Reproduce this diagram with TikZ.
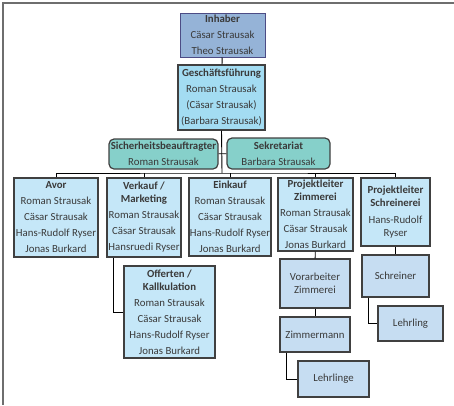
\documentclass[tikz,border=0pt]{standalone}
\usepackage{fontspec}
\setmainfont{Carlito}
\usepackage{tikz}
\usepackage{xcolor}
\usetikzlibrary{positioning, calc}

\definecolor{inhblue}{HTML}{95B3D7}
\definecolor{gfblue}{HTML}{A3DCF2}
\definecolor{unitblue}{HTML}{C5E7F8}
\definecolor{staffblue}{HTML}{C6DDF2}
\definecolor{stabteal}{HTML}{86D0CA}
\definecolor{txtgray}{HTML}{3A3A3A}
\definecolor{framegray}{HTML}{6E6E6E}

\begin{document}
\begin{tikzpicture}[x=1pt, y=-1pt,
  box/.style={draw=black!75, line width=1.2pt, fill=unitblue, text=txtgray,
    align=center, inner sep=1pt, font=\fontsize{10.8}{13}\selectfont},
  stab/.style={box, fill=stabteal, rounded corners=5pt},
  staff/.style={box, fill=staffblue},
  conn/.style={draw=black, line width=0.9pt}]
\useasboundingbox (0,0) rectangle (454,405);
% Frame
\draw[framegray, line width=1.5pt] (454,3) -- (3,3) -- (3,405);

% Leitung
\node[box, fill=inhblue, draw=black!45!blue!40!gray, line width=1pt,
  minimum width=85pt, minimum height=44pt] (inh) at (222.5,35)
  {\textbf{Inhaber}\\[3pt]Cäsar Strausak\\[3pt]Theo Strausak};
\node[box, fill=gfblue, minimum width=87pt, minimum height=65pt] (gf) at (221.5,97.5)
  {\textbf{Geschäftsführung}\\[3pt]Roman Strausak\\[3pt](Cäsar Strausak)\\[3pt](Barbara Strausak)};

% Stab
\node[stab, minimum width=109pt, minimum height=30pt] (sich) at (163.5,154)
  {\textbf{Sicherheitsbeauftragter}\\[3pt]Roman Strausak};
\node[stab, minimum width=103pt, minimum height=31pt] (sekr) at (278.5,153.5)
  {\textbf{Sekretariat}\\[3pt]Barbara Strausak};

% Abteilungen
\node[box, minimum width=84pt, minimum height=79pt] (avor) at (56,217.5)
  {\textbf{Avor}\\[3pt]Roman Strausak\\[3pt]Cäsar Strausak\\[3pt]Hans-Rudolf Ryser\\[3pt]Jonas Burkard};
\node[box, minimum width=74pt, minimum height=79pt] (verk) at (144,217.5)
  {\textbf{Verkauf /}\\\textbf{Marketing}\\[3pt]Roman Strausak\\[3pt]Cäsar Strausak\\[3pt]Hansruedi Ryser};
\node[box, minimum width=82pt, minimum height=78pt] (eink) at (230,217)
  {\textbf{Einkauf}\\[3pt]Roman Strausak\\[3pt]Cäsar Strausak\\[3pt]Hans-Rudolf Ryser\\[3pt]Jonas Burkard};
\node[box, minimum width=75pt, minimum height=73pt] (pzim) at (315.5,214.5)
  {\textbf{Projektleiter}\\\textbf{Zimmerei}\\[3pt]Roman Strausak\\[3pt]Cäsar Strausak\\[3pt]Jonas Burkard};
\node[box, minimum width=69pt, minimum height=68pt] (psch) at (395.5,212)
  {\textbf{Projektleiter}\\\textbf{Schreinerei}\\[4pt]Hans-Rudolf\\Ryser};

% Untere Stufen
\node[box, minimum width=91pt, minimum height=92pt] (off) at (169.5,312)
  {\textbf{Offerten /}\\\textbf{Kallkulation}\\[3pt]Roman Strausak\\[3pt]Cäsar Strausak\\[3pt]Hans-Rudolf Ryser\\[3pt]Jonas Burkard};
\node[staff, minimum width=70pt, minimum height=49pt] (vor) at (315,283.5) {Vorarbeiter\\Zimmerei};
\node[staff, minimum width=70pt, minimum height=35pt] (zimm) at (315,334.5) {Zimmermann};
\node[staff, minimum width=71pt, minimum height=36pt] (lehrl) at (333.5,379) {Lehrlinge};
\node[staff, minimum width=67pt, minimum height=42pt] (schr) at (395.5,276) {Schreiner};
\node[staff, minimum width=65pt, minimum height=35pt] (lehr) at (410.5,323.5) {Lehrling};

% Verbindungen
\coordinate (bar) at (222,173);
\draw[conn] (inh) -- (gf);
\draw[conn] (gf.south) -- (bar);
\draw[conn] (sich) -- (sekr);
\draw[conn] (avor.north) |- (bar) -| (psch.north);
\foreach \n in {verk, eink, pzim}
  \draw[conn] (\n.north) -- (\n.north |- bar);
\draw[conn] ([xshift=7pt]verk.south west) |- (off.west);
\draw[conn] (pzim) -- (vor);
\draw[conn] (vor) -- (zimm);
\draw[conn] ([xshift=7pt]zimm.south west) |- (lehrl.west);
\draw[conn] (psch) -- (schr);
\draw[conn] ([xshift=7pt]schr.south west) |- (lehr.west);
\end{tikzpicture}
\end{document}
